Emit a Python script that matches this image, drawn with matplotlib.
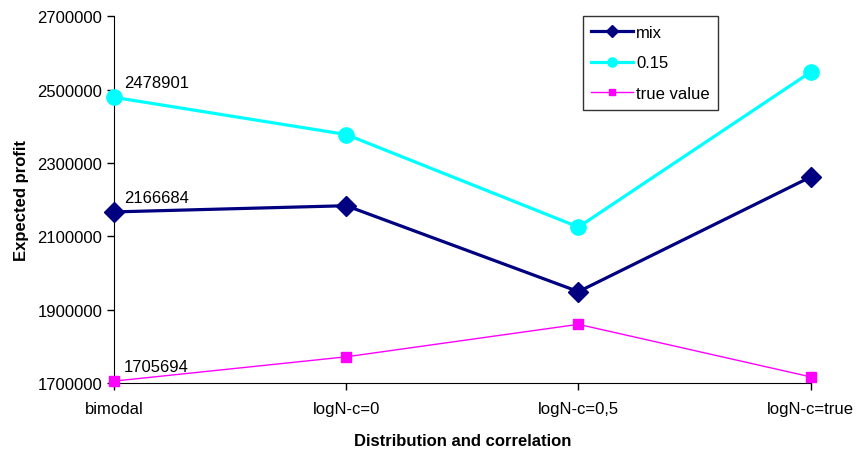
import matplotlib.pyplot as plt

plt.rcParams['font.family'] = ['Liberation Sans', 'DejaVu Sans']

categories = ["bimodal", "logN-c=0", "logN-c=0,5", "logN-c=true"]
mix = [2166684, 2183600, 1949500, 2262000]
p015 = [2478901, 2377600, 2125400, 2547800]
true_value = [1705694, 1771900, 1860400, 1717200]
y_ticks = [1700000, 1900000, 2100000, 2300000, 2500000, 2700000]

fig = plt.figure(figsize=(8.57, 4.52), dpi=100)
ax = fig.add_axes([0.133, 0.150, 0.813, 0.812])

x = range(len(categories))
ax.plot(x, mix, color="#000080", lw=2.3, marker="D", ms=10, label="mix", clip_on=False, zorder=3)
ax.plot(x, p015, color="#00FFFF", lw=2.3, marker="o", ms=11, label="0.15", clip_on=False, zorder=3)
ax.plot(x, true_value, color="#FF00FF", lw=1, marker="s", ms=6.5, label="true value", clip_on=False, zorder=3)

# data labels on the first point
for series in (mix, p015, true_value):
    ax.annotate(str(series[0]), (0, series[0]), xytext=(7, 5), textcoords="offset points",
                fontsize=12, ha="left", va="bottom")

ax.set_xlim(0, 3)
ax.set_ylim(1700000, 2700000)
ax.set_xticks(list(x))
ax.set_xticklabels(categories)
ax.set_yticks(y_ticks)
ax.set_yticklabels([str(t) for t in y_ticks])
ax.tick_params(labelsize=12, direction="out", length=5, width=1)
ax.tick_params(axis="x", pad=8)
ax.spines["top"].set_visible(False)
ax.spines["right"].set_visible(False)

ax.set_xlabel("Distribution and correlation", fontsize=12, fontweight="bold", labelpad=12)
ax.set_ylabel("Expected profit", fontsize=12, fontweight="bold", labelpad=6)

leg = ax.legend(loc="upper left", bbox_to_anchor=(0.680, 0.962), bbox_transform=fig.transFigure,
                fontsize=12, frameon=True, fancybox=False, edgecolor="black", markerscale=0.6,
                handlelength=2.5, borderpad=0.5, labelspacing=0.95, handletextpad=0.2,
                borderaxespad=0)
leg.get_frame().set_linewidth(1)

fig.savefig("out.png", dpi=100)
